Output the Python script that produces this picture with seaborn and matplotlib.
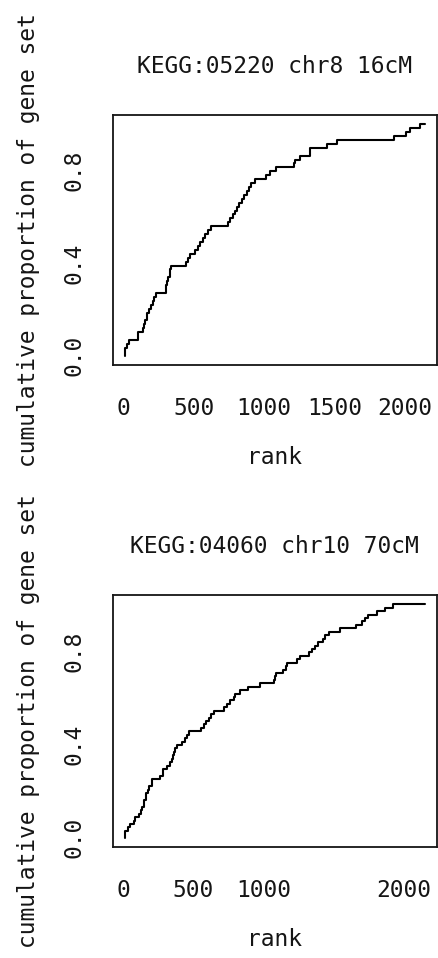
import numpy as np
import pandas as pd
import matplotlib
matplotlib.use("Agg")
import matplotlib.pyplot as plt
import seaborn as sns

# Ranks (within the full ranked gene list) of the members of each gene set
set1_title = "KEGG:05220 chr8 16cM"
set1_ranks = [9, 12, 26, 43, 100, 106, 140, 145, 150, 165, 170, 180, 199, 213, 218,
              228, 300, 303, 306, 317, 331, 334, 337, 445, 459, 476, 511, 528, 547,
              564, 582, 601, 625, 741, 758, 777, 790, 806, 823, 842, 860, 877, 894,
              907, 938, 1013, 1042, 1084, 1212, 1218, 1255, 1323, 1329, 1444, 1515,
              1925, 2008, 2036, 2107]
set1_last_rank = 2143

set2_title = "KEGG:04060 chr10 70cM"
set2_ranks = [10, 13, 31, 47, 76, 80, 115, 128, 132, 147, 151, 160, 164, 176, 180,
              203, 207, 262, 282, 287, 311, 330, 348, 352, 363, 367, 384, 419, 438,
              455, 471, 556, 575, 592, 610, 628, 646, 720, 744, 760, 788, 800, 836,
              891, 979, 1074, 1084, 1088, 1140, 1163, 1168, 1240, 1262, 1326, 1346,
              1370, 1394, 1425, 1443, 1467, 1548, 1665, 1702, 1726, 1750, 1810, 1869,
              1929]
set2_last_rank = 2155

x_ticks = [0, 500, 1000, 1500, 2000]
x_labels_set1 = ["0", "500", "1000", "1500", "2000"]
x_labels_set2 = ["0", "500", "1000", "", "2000"]
y_ticks = [0.0, 0.2, 0.4, 0.6, 0.8, 1.0]
y_labels = ["0.0", "", "0.4", "", "0.8", ""]

sns.set_style("white")
plt.rcParams["font.family"] = ["DejaVu Sans Mono", "DejaVu Sans"]
FS = 16.5
INK = "#151515"


def cumulative_table(ranks, last_rank):
    ranks = np.sort(np.asarray(ranks, dtype=float))
    n = len(ranks)
    prop = np.arange(1, n + 1) / n
    x = np.r_[ranks[0], ranks, last_rank]
    y = np.r_[0.0, prop, 1.0]
    return pd.DataFrame({"rank": x, "prop": y})


def draw_panel(ax, title, ranks, last_rank, xlabels):
    df = cumulative_table(ranks, last_rank)
    sns.lineplot(data=df, x="rank", y="prop", ax=ax, color="black",
                 linewidth=1.5, drawstyle="steps-post", estimator=None, sort=False)
    lo, hi = df["rank"].min(), df["rank"].max()
    pad = 0.04 * (hi - lo)
    ax.set_xlim(lo - pad, hi + pad)
    ax.set_ylim(-0.04, 1.04)
    ax.set_xticks(x_ticks)
    ax.set_xticklabels(xlabels)
    ax.set_yticks(y_ticks)
    ax.set_yticklabels(y_labels, rotation=90, va="center")
    ax.tick_params(axis="both", direction="out", length=10, width=1.3,
                   color=INK, labelcolor=INK, labelsize=FS)
    ax.tick_params(axis="x", pad=13)
    ax.tick_params(axis="y", pad=9.5)
    for sp in ax.spines.values():
        sp.set_visible(True)
        sp.set_color(INK)
        sp.set_linewidth(1.3)
    ax.set_xlabel("rank", fontsize=FS, color=INK, labelpad=19)
    ax.set_ylabel("cumulative proportion of gene set", fontsize=FS, color=INK,
                  labelpad=16)
    ax.set_title(title, fontsize=FS, color=INK, pad=30)


fig = plt.figure(figsize=(4.39, 9.58), dpi=100)
fig.patch.set_facecolor("white")
ax1 = fig.add_axes([112.7 / 439, (958 - 365) / 958, 324.3 / 439, 250 / 958])
ax2 = fig.add_axes([112.7 / 439, (958 - 847) / 958, 324.3 / 439, 252 / 958])

draw_panel(ax1, set1_title, set1_ranks, set1_last_rank, x_labels_set1)
draw_panel(ax2, set2_title, set2_ranks, set2_last_rank, x_labels_set2)

fig.savefig("out.png", dpi=100, facecolor="white")
